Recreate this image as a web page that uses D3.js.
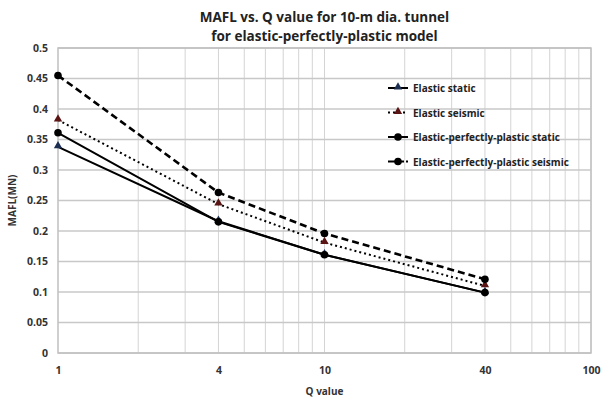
<!DOCTYPE html>
<html>
<head>
<meta charset="utf-8">
<script src="https://cdn.jsdelivr.net/npm/d3@7"></script>
<style>
 body { margin: 0; background: #fff; }
 svg { display: block; font-family: "Open Sans", "Liberation Sans", sans-serif; }
</style>
</head>
<body>
<svg width="601" height="399"></svg>
<script>
// Data.

var qValues = [1, 4, 10, 40];
var elasticStatic = [0.338, 0.216, 0.161, 0.099];
var elasticSeismic = [0.382, 0.244, 0.181, 0.110];
var eppStatic = [0.361, 0.215, 0.161, 0.099];
var eppSeismic = [0.455, 0.263, 0.196, 0.121];
var seriesNames = ['Elastic static', 'Elastic seismic', 'Elastic-perfectly-plastic static', 'Elastic-perfectly-plastic seismic'];
var xTickLabels = [1, 4, 10, 40, 100];
var yTicks = [0, 0.05, 0.1, 0.15, 0.2, 0.25, 0.3, 0.35, 0.4, 0.45, 0.5];

var series = [
 {name: seriesNames[0], values: elasticStatic, dash: null, marker: 'triangle', color: '#1c2f52'},
 {name: seriesNames[1], values: elasticSeismic, dash: '2,3', marker: 'triangle', color: '#5a1414'},
 {name: seriesNames[2], values: eppStatic, dash: null, marker: 'circle', color: '#000'},
 {name: seriesNames[3], values: eppSeismic, dash: '7,4', marker: 'circle', color: '#000'}
];

var svg = d3.select('svg');
var margin = {top: 48, right: 10, bottom: 46, left: 58};
var width = 601 - margin.left - margin.right;
var height = 399 - margin.top - margin.bottom;
var g = svg.append('g').attr('transform', 'translate(' + margin.left + ',' + margin.top + ')');

var x = d3.scaleLog().domain([1, 100]).range([0, width]);
var y = d3.scaleLinear().domain([0, 0.5]).range([height, 0]);

// Gridlines: log minor verticals and major horizontals.

var xGrid = [];
[1, 10].forEach(function(dec) { for (var k = 2; k <= 10; k++) xGrid.push(dec * k); });

g.append('g').selectAll('line')
 .data(xGrid)
 .enter().append('line')
 .attr('x1', function(d) { return x(d); })
 .attr('x2', function(d) { return x(d); })
 .attr('y1', 0).attr('y2', height)
 .attr('stroke', '#d4d4d4').attr('stroke-width', 1);

g.append('g').selectAll('line')
 .data(yTicks)
 .enter().append('line')
 .attr('x1', 0).attr('x2', width)
 .attr('y1', function(d) { return y(d); })
 .attr('y2', function(d) { return y(d); })
 .attr('stroke', '#c8c8c8').attr('stroke-width', 1.5);

g.append('rect')
 .attr('width', width).attr('height', height)
 .attr('fill', 'none').attr('stroke', '#c0c0c0').attr('stroke-width', 1.5);

// Axes (labels only, no tick marks).

var yAxis = g.append('g')
 .call(d3.axisLeft(y).tickValues(yTicks).tickSize(0).tickPadding(10).tickFormat(d3.format('~g')));
yAxis.select('.domain').remove();
yAxis.selectAll('text').attr('font-size', 10.5).attr('font-weight', 'bold').attr('fill', '#333')
 .attr('font-family', '"Open Sans", sans-serif');

var xAxis = g.append('g')
 .attr('transform', 'translate(0,' + height + ')')
 .call(d3.axisBottom(x).tickValues(xTickLabels).tickSize(0).tickPadding(14).tickFormat(d3.format('d')));
xAxis.select('.domain').remove();
xAxis.selectAll('text').attr('font-size', 10.5).attr('font-weight', 'bold').attr('fill', '#333')
 .attr('font-family', '"Open Sans", sans-serif');

// Lines and markers.

var line = d3.line()
 .x(function(d, i) { return x(qValues[i]); })
 .y(function(d) { return y(d); });

var tri = d3.symbol().type(d3.symbolTriangle).size(30);

function drawMarker(sel, s, px, py) {
 if (s.marker === 'triangle') {
  sel.append('path').attr('d', tri()).attr('transform', 'translate(' + px + ',' + (py - 1) + ')')
   .attr('fill', s.color);
 } else {
  sel.append('circle').attr('cx', px).attr('cy', py).attr('r', 3.8).attr('fill', '#000');
 }
}

series.forEach(function(s) {
 g.append('path')
  .attr('d', line(s.values))
  .attr('fill', 'none')
  .attr('stroke', '#000')
  .attr('stroke-width', s.dash === '7,4' ? 2.6 : 2)
  .attr('stroke-dasharray', s.dash);
});
series.forEach(function(s) {
 s.values.forEach(function(v, i) { drawMarker(g, s, x(qValues[i]), y(v)); });
});

// Legend.

var legend = svg.append('g').attr('transform', 'translate(388,88)');
series.forEach(function(s, i) {
 var row = legend.append('g').attr('transform', 'translate(0,' + (i * 24.5) + ')');
 row.append('line').attr('x1', 0).attr('x2', 20).attr('y1', 0).attr('y2', 0)
  .attr('stroke', '#000').attr('stroke-width', 2).attr('stroke-dasharray', s.dash ? (s.dash === '7,4' ? '7,2' : '2,3') : null);
 drawMarker(row, s, 10, 0);
 row.append('text').attr('x', 25).attr('y', 4).text(s.name)
  .attr('font-size', 10).attr('font-weight', 'bold').attr('fill', '#222')
  .attr('font-family', '"Liberation Sans Narrow", "Open Sans", sans-serif');
});

// Titles.

var cx = margin.left + width / 2;
svg.append('text').attr('x', cx).attr('y', 22).attr('text-anchor', 'middle')
 .attr('font-size', 13.5).attr('font-weight', 'bold').attr('fill', '#222')
 .text('MAFL vs. Q value for 10-m dia. tunnel');
svg.append('text').attr('x', cx).attr('y', 41).attr('text-anchor', 'middle')
 .attr('font-size', 13.5).attr('font-weight', 'bold').attr('fill', '#222')
 .text('for elastic-perfectly-plastic model');

svg.append('text').attr('x', cx).attr('y', 395).attr('text-anchor', 'middle')
 .attr('font-size', 10).attr('font-weight', 'bold').attr('fill', '#333')
 .text('Q value');

svg.append('text').attr('transform', 'translate(16,' + (margin.top + height / 2) + ') rotate(-90)')
 .attr('text-anchor', 'middle')
 .attr('font-size', 10).attr('font-weight', 'bold').attr('fill', '#333')
 .text('MAFL(MN)');
</script>
</body>
</html>
